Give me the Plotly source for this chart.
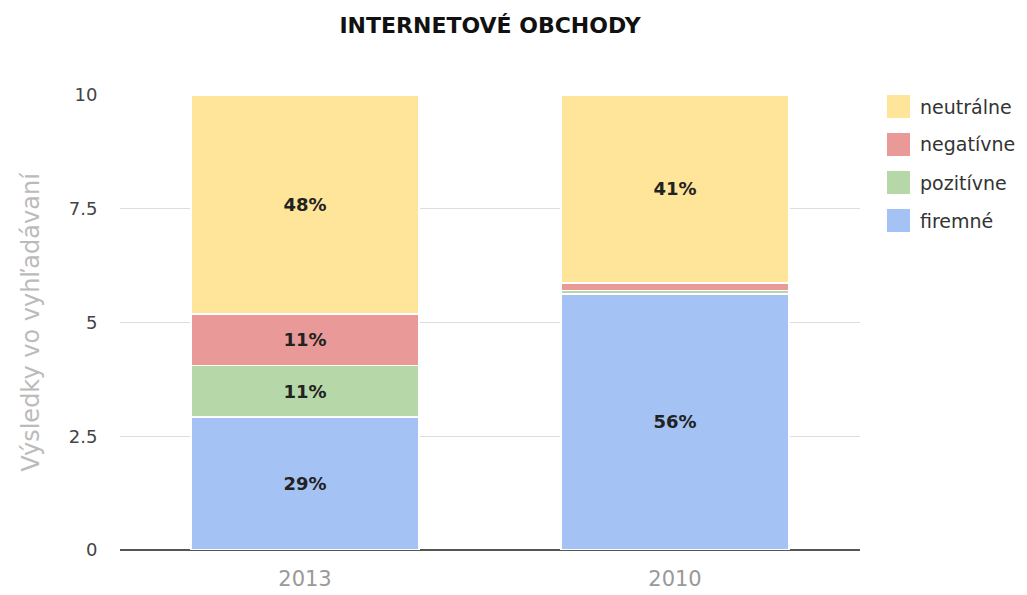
import plotly.graph_objects as go

categories = ["2013", "2010"]
series_names = ["firemné", "pozitívne", "negatívne", "neutrálne"]
firemne = [2.92, 5.63]
pozitivne = [1.13, 0.07]
negativne = [1.14, 0.17]
neutralne = [4.81, 4.13]
colors = ["#A4C2F4", "#B6D7A8", "#EA9999", "#FFE599"]
y_ticks = [0, 2.5, 5, 7.5, 10]
y_tick_labels = ["0", "2.5", "5", "7.5", "10"]

series_values = [firemne, pozitivne, negativne, neutralne]
totals = [sum(v[i] for v in series_values) for i in range(len(categories))]

FONT = "DejaVu Sans, Liberation Sans, Arial, sans-serif"

# page body has an 8px margin: size the figure so the plot area lands where intended
OFF = 8
W, H = 1027 - OFF, 595 - OFF
L, T, PW, PH = 120, 95, 740, 455   # desired plot area in window pixels
ml, mt = L - OFF, T - OFF

fig = go.Figure()
for name, vals, col in zip(series_names, series_values, colors):
    texts = []
    for i, v in enumerate(vals):
        pct = v / totals[i] * 100
        texts.append(f"<b>{round(pct)}%</b>" if pct >= 5 else "")
    fig.add_trace(go.Bar(
        x=categories, y=vals, name=name,
        marker=dict(color=col, line=dict(color="white", width=1.5)),
        text=texts, textposition="inside", insidetextanchor="middle",
        textangle=0, constraintext="none",
        insidetextfont=dict(family=FONT, size=18, color="#222222"),
        showlegend=False,
        hoverinfo="x+y+name",
    ))

# legend drawn with larger square swatches like the original
shapes = []
annotations = []
for k, idx in enumerate(list(range(len(series_names)))[::-1]):
    cy = 106.5 + k * 38
    shapes.append(dict(type="rect", xref="paper", yref="paper",
                       x0=(887 - L) / PW, x1=(910 - L) / PW,
                       y0=(T + PH - (cy + 11.5)) / PH, y1=(T + PH - (cy - 11.5)) / PH,
                       fillcolor=colors[idx], line=dict(width=0), layer="above"))
    annotations.append(dict(xref="paper", yref="paper", x=(918 - L) / PW, y=(T + PH - cy) / PH,
                            text=series_names[idx], showarrow=False, xanchor="left", yanchor="middle",
                            font=dict(family=FONT, size=19, color="#333333")))

fig.update_layout(
    width=W, height=H,
    barmode="stack", bargap=0.384,
    paper_bgcolor="white", plot_bgcolor="white",
    margin=dict(l=ml, r=W - ml - PW, t=mt, b=H - mt - PH, autoexpand=False),
    title=dict(text="<b>INTERNETOVÉ OBCHODY</b>", x=0.5, xref="paper", xanchor="center",
               y=1 - (25 - OFF) / H, yref="container", yanchor="middle",
               font=dict(family=FONT, size=22, color="#111111")),
    xaxis=dict(showgrid=False, showline=False, ticks="outside", ticklen=10, tickcolor="rgba(0,0,0,0)",
               tickfont=dict(family=FONT, size=21, color="#999999")),
    yaxis=dict(range=[0, 10], tickvals=y_ticks, ticktext=y_tick_labels,
               showgrid=True, gridcolor="#DDDDDD", gridwidth=1,
               zeroline=True, zerolinecolor="#555555", zerolinewidth=1.5,
               showline=False, ticks="outside", ticklen=18, tickcolor="rgba(0,0,0,0)",
               tickfont=dict(family=FONT, size=18, color="#444444"),
               title=dict(text="Výsledky vo vyhľadávaní", standoff=22,
                          font=dict(family=FONT, size=24, color="#BBBBBB"))),
    shapes=shapes,
    annotations=annotations,
    showlegend=False,
)

fig.write_html("out.html")
